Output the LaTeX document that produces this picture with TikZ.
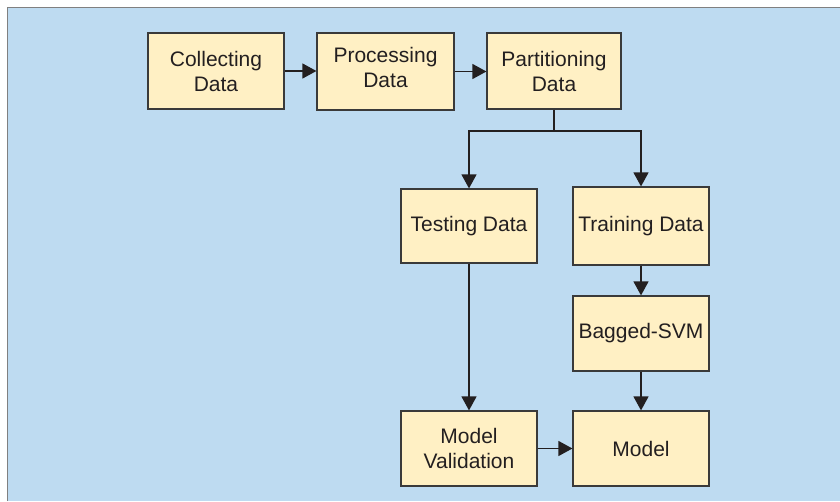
\documentclass[tikz,border=0pt]{standalone}
\usepackage{fontspec}
\setmainfont{Liberation Sans}
\usetikzlibrary{arrows.meta}
\definecolor{bgblue}{RGB}{190,219,241}
\definecolor{boxfill}{RGB}{255,240,196}
\definecolor{boxline}{RGB}{58,58,58}
\definecolor{ink}{RGB}{35,31,32}
\tikzset{
  stepbox/.style={draw=boxline, fill=boxfill, line width=1.2pt, inner sep=0pt,
    align=center, text=ink, font=\fontsize{21}{25}\selectfont},
  txt/.style={inner sep=0pt, align=center, text=ink, font=\fontsize{21}{25}\selectfont},
  conn/.style={draw=ink, line width=1.3pt, -{Triangle[length=14pt,width=15pt]}},
}
\begin{document}
\begin{tikzpicture}[x=1pt,y=-1pt]
\useasboundingbox (0,0) rectangle (840,501);
\fill[white] (0,0) rectangle (840,501);
\fill[bgblue] (7,7) rectangle (840,501);
\draw[gray, line width=1pt] (7,501) -- (7,7) -- (840,7);

\node[stepbox, minimum width=136pt, minimum height=76pt] (collect) at (216,71) {Collecting\\Data};
\node[stepbox, minimum width=137pt, minimum height=77pt] (process) at (385.5,71.5) {};
\node[txt] (processtxt) at (385.5,67.5) {Processing\\Data};
\node[stepbox, minimum width=134pt, minimum height=76pt] (partition) at (554,71) {Partitioning\\Data};
\node[stepbox, minimum width=136pt, minimum height=74pt] (testing) at (469,226) {Testing Data};
\node[stepbox, minimum width=136pt, minimum height=78pt] (training) at (641,226) {Training Data};
\node[stepbox, minimum width=136pt, minimum height=75pt] (bagged) at (641,333.5) {Bagged-SVM};
\node[stepbox, minimum width=136pt, minimum height=75pt] (validation) at (469,448.5) {Model\\Validation};
\node[stepbox, minimum width=136pt, minimum height=75pt] (model) at (641,448.5) {Model};

\coordinate (split) at (554,131);
\draw[conn] (collect.east) -- (collect.east -| process.west);
\draw[conn] (process.east) -- (process.east -| partition.west);
\draw[draw=ink, line width=1.3pt] (partition.south) -- (split);
\draw[conn] (split) -| (testing.north);
\draw[conn] (split) -| (training.north);
\draw[conn] (training.south) -- (bagged.north);
\draw[conn] (bagged.south) -- (model.north);
\draw[conn] (testing.south) -- (validation.north);
\draw[conn] (validation.east) -- (model.west);
\end{tikzpicture}
\end{document}
